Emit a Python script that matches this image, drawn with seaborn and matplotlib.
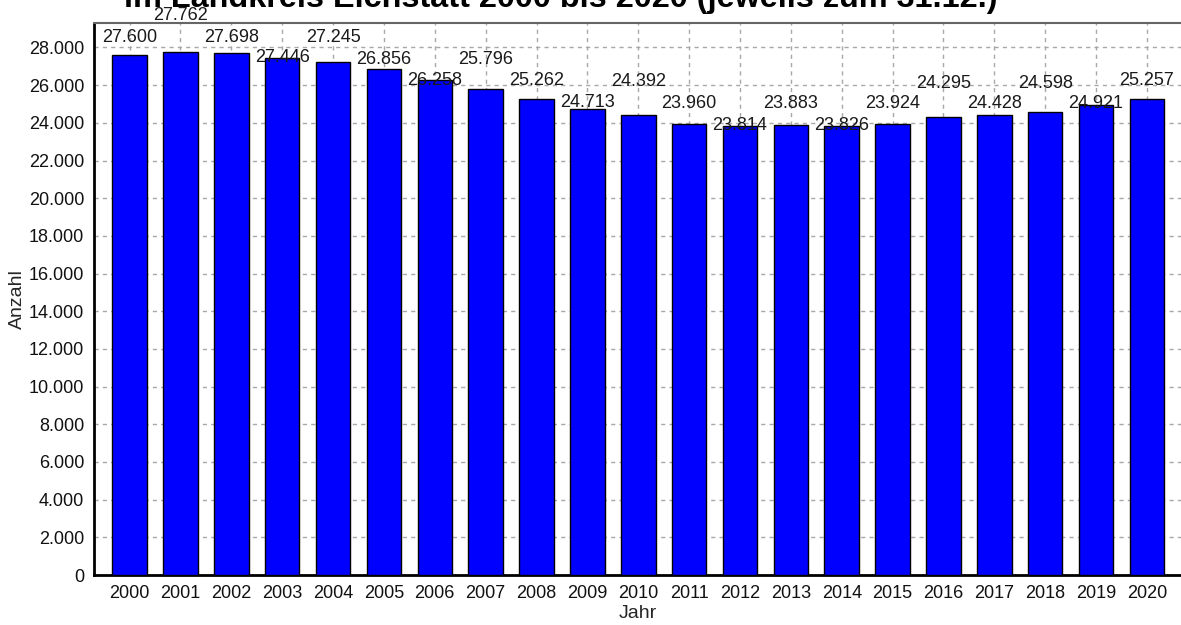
import matplotlib
matplotlib.use("Agg")
import matplotlib.pyplot as plt
from matplotlib.ticker import MultipleLocator, FuncFormatter
import seaborn as sns
import pandas as pd

# Einwohnerzahl je Jahr (Stand 31.12.)
jahre = [str(j) for j in range(2000, 2021)]
anzahl = [27600, 27762, 27698, 27446, 27245, 26856, 26258, 25796, 25262, 24713,
          24392, 23960, 23814, 23883, 23826, 23924, 24295, 24428, 24598, 24921,
          25257]

# vertical shift of each value label above its bar top, in pixels
label_shift = [17.5, 36.5, 15.7, 0, 24, 9.5, 0, 29.6, 18.6, 7,
               34, 20, 1, 21.6, 0.7, 21, 34, 11, 28, 2, 18.7]

title = "im Landkreis Eichstätt 2000 bis 2020 (jeweils zum 31.12.)"

sns.set_style("white")
plt.rcParams["font.family"] = ["Liberation Sans", "DejaVu Sans"]

df = pd.DataFrame({"Jahr": jahre, "Anzahl": anzahl})

fig = plt.figure(figsize=(11.81, 6.25), dpi=100)
W, H = 1181, 625
ax = fig.add_axes([94 / W, (H - 575) / H, (1181 - 94) / W, (575 - 23) / H])

sns.barplot(data=df, x="Jahr", y="Anzahl", color="#0000ff", saturation=1,
            edgecolor="black", linewidth=1, width=0.68, ax=ax, zorder=3)

ax.set_xlim(-0.70, 20.67)
ax.set_ylim(0, 29300)

de_fmt = FuncFormatter(lambda v, p: f"{int(v):,}".replace(",", "."))
ax.yaxis.set_major_locator(MultipleLocator(2000))
ax.yaxis.set_minor_locator(MultipleLocator(1000))
ax.yaxis.set_major_formatter(de_fmt)
ax.xaxis.set_minor_locator(MultipleLocator(0.5))

ax.grid(True, which="major", color="#a8a8a8", linestyle=(0, (3, 3)), linewidth=1, zorder=0)
ax.set_axisbelow(True)

for side in ("left", "bottom"):
    ax.spines[side].set_color("black")
    ax.spines[side].set_linewidth(2)
ax.spines["top"].set_color("#666666")
ax.spines["top"].set_linewidth(1.5)
ax.spines["right"].set_visible(False)

FS = 13
ax.tick_params(axis="both", which="both", direction="out", length=4, width=1,
               color="#333333", labelsize=FS, labelcolor="#111111")
ax.tick_params(axis="x", which="both", top=False, pad=3)
ax.tick_params(axis="y", which="both", right=False, pad=3)
ax.tick_params(axis="y", which="minor", length=3)

ax.set_xlabel("Jahr", fontsize=14, labelpad=2)
ax.set_ylabel("Anzahl", fontsize=14, labelpad=2)

for i, (v, s) in enumerate(zip(anzahl, label_shift)):
    ax.annotate(f"{v:,}".replace(",", "."), xy=(i, v), xytext=(0, s),
                textcoords="offset pixels", ha="center", va="center",
                fontsize=FS, color="#1a1a1a", zorder=5, annotation_clip=False)

fig.text(561 / W, 1 - 7.5 / H, title, ha="center", va="baseline",
         fontsize=23.3, fontweight="bold", color="black")

fig.savefig("out.png", dpi=100)
